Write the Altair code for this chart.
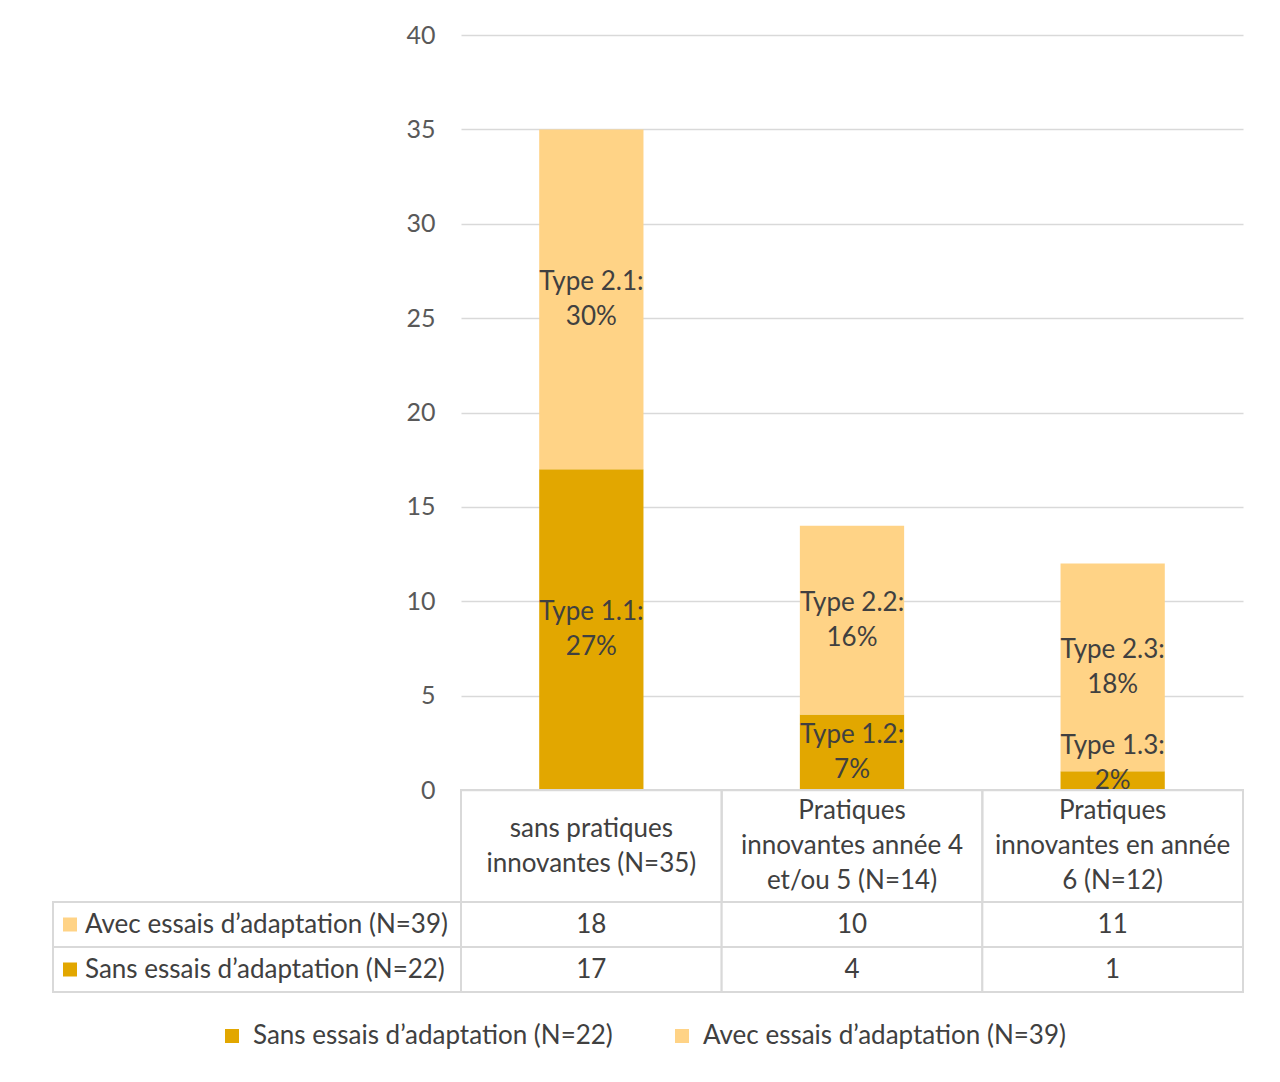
import altair as alt
import pandas as pd

# ---- data ----
categories = [
    "sans pratiques\ninnovantes (N=35)",
    "Pratiques\ninnovantes année 4\net/ou 5 (N=14)",
    "Pratiques\ninnovantes en année\n6 (N=12)",
]
series = ["Sans essais d\u2019adaptation (N=22)", "Avec essais d\u2019adaptation (N=39)"]
table_rows = ["Avec essais d\u2019adaptation (N=39)", "Sans essais d\u2019adaptation (N=22)"]
sans_values = [17, 4, 1]
avec_values = [18, 10, 11]
sans_labels = ["Type 1.1:\n27%", "Type 1.2:\n7%", "Type 1.3:\n2%"]
avec_labels = ["Type 2.1:\n30%", "Type 2.2:\n16%", "Type 2.3:\n18%"]
y_ticks = [0, 5, 10, 15, 20, 25, 30, 35, 40]
colors = ["#E2A700", "#FFD386"]

FONT = "Lato"
FS = 26
LH = 35
TXT = "#404040"
GRID = "#d9d9d9"

rows = []
for i, c in enumerate(categories):
    rows.append({"cat": c, "series": series[0], "sidx": 0, "value": sans_values[i], "label": sans_labels[i]})
    rows.append({"cat": c, "series": series[1], "sidx": 1, "value": avec_values[i], "label": avec_labels[i]})
df = pd.DataFrame(rows)

color_scale = alt.Scale(domain=series, range=colors)

# ---- bar chart ----
bars = alt.Chart(df).mark_bar().encode(
    x=alt.X("cat:N", sort=categories,
            scale=alt.Scale(paddingInner=0.6, paddingOuter=0.3), axis=None),
    y=alt.Y("value:Q", stack="zero",
            scale=alt.Scale(domain=[0, 40], nice=False),
            axis=alt.Axis(values=y_ticks, title=None, grid=True, gridColor=GRID,
                          gridWidth=1.5, ticks=False, domain=False,
                          labelFontSize=25, labelColor="#595959",
                          labelPadding=26, labelFont=FONT)),
    color=alt.Color("series:N", scale=color_scale,
                    legend=alt.Legend(title=None, orient="none", legendX=-242,
                                      legendY=988, direction="horizontal",
                                      symbolType="square", symbolSize=196,
                                      symbolStrokeWidth=0, labelFontSize=FS,
                                      labelFont=FONT, labelColor=TXT,
                                      labelOffset=8, columnPadding=56,
                                      labelLimit=500)),
    order=alt.Order("sidx:Q"),
)

labels = alt.Chart(df).transform_stack(
    stack="value", groupby=["cat"], sort=[alt.SortField("sidx")], as_=["v0", "v1"]
).transform_calculate(
    mid="max((datum.v0 + datum.v1) / 2, 1.4)"
).mark_text(lineBreak="\n", fontSize=FS, lineHeight=LH, color=TXT, font=FONT,
            baseline="middle", dy=-LH / 2).encode(
    x=alt.X("cat:N", sort=categories,
            scale=alt.Scale(paddingInner=0.6, paddingOuter=0.3)),
    y=alt.Y("mid:Q"),
    text="label:N",
)

top = alt.layer(bars, labels).properties(width=782, height=755)

# ---- header row with category names ----
cell_x = alt.X("cat:N", sort=categories,
               scale=alt.Scale(paddingInner=0, paddingOuter=0), axis=None)
hdr = alt.Chart(pd.DataFrame({"cat": categories})).encode(x=cell_x)
header = alt.layer(
    hdr.mark_rect(fillOpacity=0, stroke=GRID, strokeWidth=2),
    hdr.transform_calculate(
        off=f"-(length(split(datum.cat, '\\n')) - 1) * {LH} / 2"
    ).mark_text(lineBreak="\n", fontSize=FS, lineHeight=LH, color=TXT,
                font=FONT, baseline="middle").encode(
        text="cat:N", yOffset=alt.YOffset("off:Q", scale=None)),
).properties(width=782, height=112)

# ---- value table ----
cell_y = alt.Y("series:N", sort=table_rows,
               scale=alt.Scale(paddingInner=0, paddingOuter=0), axis=None)
tb = alt.Chart(df).encode(x=cell_x, y=cell_y)
table = alt.layer(
    tb.mark_rect(fill="white", stroke=GRID, strokeWidth=2),
    tb.mark_text(fontSize=FS, color=TXT, font=FONT).encode(text="value:Q"),
).properties(width=782, height=90)

# ---- row headers ----
rh = alt.Chart(pd.DataFrame({"series": series})).encode(y=cell_y)
rowhdr = alt.layer(
    rh.mark_rect(fill="white", stroke=GRID, strokeWidth=2),
    rh.mark_point(shape="square", filled=True, size=196, opacity=1).encode(
        x=alt.value(17),
        color=alt.Color("series:N", scale=color_scale, legend=None)),
    rh.mark_text(align="left", fontSize=FS, color=TXT, font=FONT).encode(
        x=alt.value(32), text="series:N"),
).properties(width=408, height=90)

blank = alt.Chart(pd.DataFrame({"v": [0]})).mark_point(opacity=0).encode(
    x=alt.value(0), y=alt.value(0))
blank1 = blank.properties(width=408, height=755)
blank2 = blank.properties(width=408, height=112)

chart = alt.concat(
    blank1, top, blank2, header, rowhdr, table,
    columns=2, spacing=0, bounds="flush",
).resolve_scale(color="independent").properties(
    padding={"left": 42, "top": 15, "right": 10, "bottom": 10},
).configure(font=FONT, background="white").configure_view(stroke=None, strokeWidth=0)

chart.save("out.html", embed_options={"renderer": "svg", "actions": False})
